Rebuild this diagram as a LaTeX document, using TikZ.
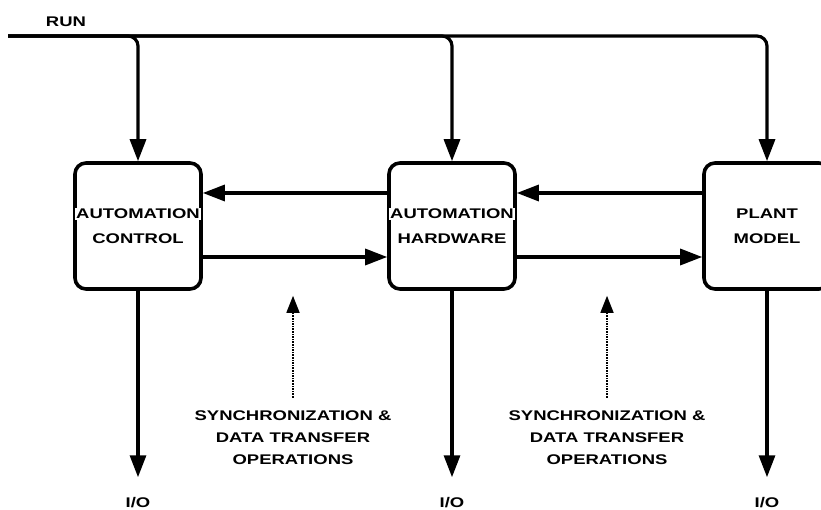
\documentclass[tikz,border=0pt]{standalone}
\usepackage{fontspec}
\setmainfont{Liberation Sans}
\newfontfamily\plotfont[FakeStretch=1.32]{Liberation Sans Bold}
\usetikzlibrary{arrows.meta,positioning}
\newcommand{\knockout}[1]{{\fboxsep=1pt\colorbox{white}{#1}}}

\begin{document}
\begin{tikzpicture}[x=1pt, y=-1pt,
    blk/.style={draw, line width=3.6pt, rounded corners=11pt, minimum width=126pt, minimum height=126pt},
    txt/.style={align=center, inner sep=0pt, font=\plotfont\fontsize{14}{25}\selectfont},
    note/.style={align=center, font=\plotfont\fontsize{14}{22}\selectfont},
    wire/.style={line width=3.2pt, -{Triangle[length=22pt,width=16pt]}},
    sync/.style={line width=1.6pt, densely dotted, -{Triangle[length=17pt,width=13pt]}}]

    \useasboundingbox (0,0) rectangle (821,510);

    % Blocks
    \node[blk] (AC) at (138,226) {}; % automation control
    \node[blk] (AH) at (452,226) {}; % automation hardware
    \node[blk] (PM) at (767,226) {}; % plant model
    \node[txt] (ACt) at (AC) {\knockout{AUTOMATION}\\CONTROL};
    \node[txt] (AHt) at (AH) {\knockout{AUTOMATION}\\HARDWARE};
    \node[txt] (PMt) at (PM) {PLANT\\MODEL};

    % RUN line
    \coordinate (RUN) at (8,36);
    \node[note] (RUNt) at (66,22) {RUN};
    \draw[wire, rounded corners=10pt] (RUN) -| (AC.north);
    \draw[wire, rounded corners=10pt] (RUN) -| (AH.north);
    \draw[wire, rounded corners=10pt] (RUN) -| (PM.north);

    % Data paths between blocks
    \draw[wire] ([yshift=33pt]AH.west) -- ([yshift=33pt]AC.east);
    \draw[wire] ([yshift=-31pt]AC.east) -- ([yshift=-31pt]AH.west);
    \draw[wire] ([yshift=33pt]PM.west) -- ([yshift=33pt]AH.east);
    \draw[wire] ([yshift=-31pt]AH.east) -- ([yshift=-31pt]PM.west);

    % Synchronization notes
    \node[note] (S1) at (293,438) {SYNCHRONIZATION \&\\DATA TRANSFER\\OPERATIONS};
    \node[note] (S2) at (607,438) {SYNCHRONIZATION \&\\DATA TRANSFER\\OPERATIONS};
    \draw[sync, shorten <=10pt] (S1.north) -- ([yshift=-5pt]S1.north |- AC.south);
    \draw[sync, shorten <=10pt] (S2.north) -- ([yshift=-5pt]S2.north |- AH.south);

    % I/O outputs
    \node[note] (IO1) at (AC.south |- 0,503) {I/O};
    \node[note] (IO2) at (AH.south |- 0,503) {I/O};
    \node[note] (IO3) at (PM.south |- 0,503) {I/O};
    \draw[wire] (AC.south) -- ([yshift=17pt]IO1.north);
    \draw[wire] (AH.south) -- ([yshift=17pt]IO2.north);
    \draw[wire] (PM.south) -- ([yshift=17pt]IO3.north);
\end{tikzpicture}
\end{document}
